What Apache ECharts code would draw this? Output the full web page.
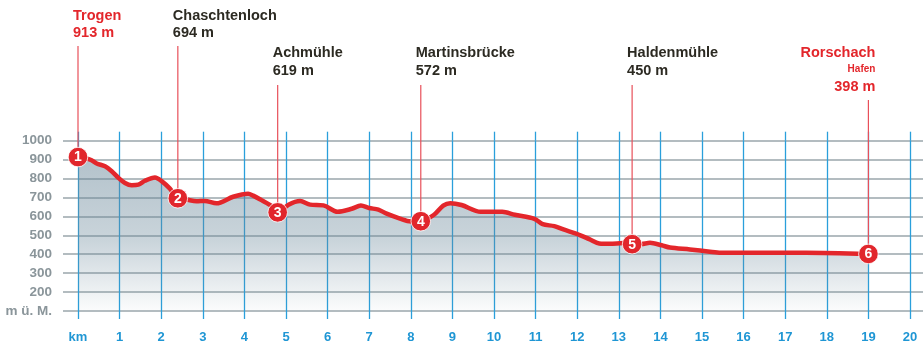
<!DOCTYPE html>
<html>
<head>
<meta charset="utf-8">
<script src="https://cdn.jsdelivr.net/npm/echarts@6/dist/echarts.min.js"></script>
<style>
  html, body { margin: 0; padding: 0; background: #ffffff; }
  #chart { width: 923px; height: 344px; }
</style>
</head>
<body>
<div id="chart"></div>
<script>
// Elevation profile Trogen – Rorschach: distance (km) and height (m ü. M.)
const profileKm = [0, 0.29, 0.45, 0.65, 0.81, 0.97, 1.13, 1.29, 1.45, 1.61, 1.85, 2.01, 2.21, 2.40,
  2.61, 2.85, 3.05, 3.33, 3.73, 4.09, 4.21, 4.41, 4.66, 4.80, 5.06, 5.34, 5.58, 5.90, 6.24, 6.58,
  6.80, 7.00, 7.22, 7.42, 7.74, 8.00, 8.24, 8.55, 8.78, 8.95, 9.22, 9.68, 10.20, 10.50, 10.97,
  11.17, 11.45, 11.67, 11.99, 12.29, 12.53, 12.79, 13.11, 13.32, 13.55, 13.75, 14.03, 14.23,
  14.71, 15.19, 15.45, 17.50, 19.00];
const profileElev = [913, 900, 879, 864, 838, 803, 775, 763, 766, 787, 804, 785, 745, 694,
  687, 678, 680, 667, 702, 718, 708, 684, 652, 619, 660, 679, 660, 656, 622, 638,
  655, 642, 634, 612, 586, 571, 572, 605, 655, 668, 658, 622, 622, 606, 585,
  556, 546, 528, 505, 477, 454, 452, 456, 450, 451, 457, 444, 432,
  422, 410, 405, 404, 398];

// Stations along the route
const stationNames = ['Trogen', 'Chaschtenloch', 'Achmühle', 'Martinsbrücke', 'Haldenmühle', 'Rorschach'];
const stationNotes = ['', '', '', '', '', 'Hafen'];
const stationKm = [0, 2.40, 4.80, 8.24, 13.32, 19.00];
const stationElev = [913, 694, 619, 572, 450, 398];

// Axis tick labels
const kmTicks = ['km', '1', '2', '3', '4', '5', '6', '7', '8', '9', '10', '11', '12', '13', '14', '15', '16', '17', '18', '19', '20'];
const elevTicks = ['m ü. M.', '200', '300', '400', '500', '600', '700', '800', '900', '1000'];

const RED = '#e3262b';
const DARK = '#2c2a22';
const BLUE = '#2a9fdb';
const GRID_GREY = '#9aa6ab';
const FONT = '"Liberation Sans", Arial, sans-serif';

// Label tiers: row of the name / elevation text above the profile
const labelTiers = [
  { nameY: 16, elevY: 33, lineTop: 46, align: 'left' },
  { nameY: 16, elevY: 33, lineTop: 46, align: 'left' },
  { nameY: 53, elevY: 70.5, lineTop: 85, align: 'left' },
  { nameY: 53, elevY: 70.5, lineTop: 85, align: 'left' },
  { nameY: 53, elevY: 70.5, lineTop: 85, align: 'left' },
  { nameY: 53, noteY: 69.5, elevY: 87, lineTop: 100, align: 'right' }
];
const redLabel = [true, false, false, false, false, true];

const profileData = profileKm.map((k, i) => [k, profileElev[i]]);
const stationData = stationKm.map((k, i) => [k, stationElev[i]]);

const chart = echarts.init(document.getElementById('chart'), null, { renderer: 'canvas' });

function renderStation(params, api) {
  const i = params.dataIndex;
  const pt = api.coord([api.value(0), api.value(1)]);
  const tier = labelTiers[i];
  const color = redLabel[i] ? RED : DARK;
  const tx = tier.align === 'left' ? pt[0] - 5 : pt[0] + 7;
  const children = [
    { type: 'line', shape: { x1: pt[0], y1: tier.lineTop, x2: pt[0], y2: pt[1] },
      style: { stroke: '#e8505a', lineWidth: 1.2 } },
    { type: 'circle', shape: { cx: pt[0], cy: pt[1], r: 9.8 },
      style: { fill: '#e1262c', stroke: '#ffffff', lineWidth: 0.8 } },
    { type: 'text', style: { text: String(i + 1), x: pt[0], y: pt[1] + 0.5, align: 'center', verticalAlign: 'middle',
      fill: '#ffffff', font: 'bold 14px ' + FONT } },
    { type: 'text', style: { text: stationNames[i], x: tx, y: tier.nameY, align: tier.align, verticalAlign: 'middle',
      fill: color, font: 'bold 14.5px ' + FONT } },
    { type: 'text', style: { text: stationElev[i] + ' m', x: tx, y: tier.elevY, align: tier.align, verticalAlign: 'middle',
      fill: color, font: 'bold 14.5px ' + FONT } }
  ];
  if (stationNotes[i]) {
    children.push({ type: 'text', style: { text: stationNotes[i], x: tx, y: tier.noteY, align: tier.align,
      verticalAlign: 'middle', fill: color, font: 'bold 10px ' + FONT } });
  }
  return { type: 'group', children: children };
}

const option = {
  animation: false,
  backgroundColor: '#ffffff',
  grid: [
    { left: 63, right: 0, top: 140.7, bottom: 33 },
    { left: 78, right: 13, top: 140.7, bottom: 33 }
  ],
  xAxis: [
    { gridIndex: 0, type: 'value', min: 0, max: 1, show: false },
    {
      gridIndex: 1, type: 'value', position: 'bottom', min: 0, max: 20, interval: 1,
      axisLine: { show: false },
      axisTick: { show: true, length: 9, lineStyle: { color: BLUE, width: 1.3 } },
      splitLine: { show: true, lineStyle: { color: BLUE, width: 1.3 } },
      axisLabel: {
        margin: 21, color: '#1f96d4', fontFamily: FONT, fontWeight: 'bold', fontSize: 13,
        formatter: v => kmTicks[Math.round(v)]
      }
    },
    {
      gridIndex: 1, type: 'value', position: 'top', min: 0, max: 20, interval: 1,
      axisLine: { show: false },
      axisTick: { show: true, length: 9, lineStyle: { color: BLUE, width: 1.3 } },
      splitLine: { show: false },
      axisLabel: { show: false }
    }
  ],
  yAxis: [
    {
      gridIndex: 0, type: 'value', min: 100, max: 1000, interval: 100,
      axisLine: { show: false }, axisTick: { show: false },
      splitLine: { show: true, lineStyle: { color: GRID_GREY, width: 1.6 } },
      axisLabel: {
        margin: 11, color: '#8a959a', fontFamily: FONT, fontWeight: 'bold', fontSize: 13.5,
        formatter: v => elevTicks[Math.round((v - 100) / 100)]
      }
    },
    { gridIndex: 1, type: 'value', min: 100, max: 1000, show: false }
  ],
  series: [
    {
      type: 'line', xAxisIndex: 1, yAxisIndex: 1, data: profileData,
      smooth: 0.3, symbol: 'none', z: 3,
      lineStyle: { color: RED, width: 4.5, cap: 'round', join: 'round' },
      areaStyle: {
        color: new echarts.graphic.LinearGradient(0, 0, 0, 1, [
          { offset: 0, color: 'rgba(104,134,152,0.72)' },
          { offset: 0.55, color: 'rgba(104,134,152,0.5)' },
          { offset: 1, color: 'rgba(104,134,152,0.04)' }
        ])
      }
    },
    {
      type: 'custom', xAxisIndex: 1, yAxisIndex: 1, data: stationData,
      renderItem: renderStation, z: 5, clip: false
    }
  ]
};

chart.setOption(option);
</script>
</body>
</html>
